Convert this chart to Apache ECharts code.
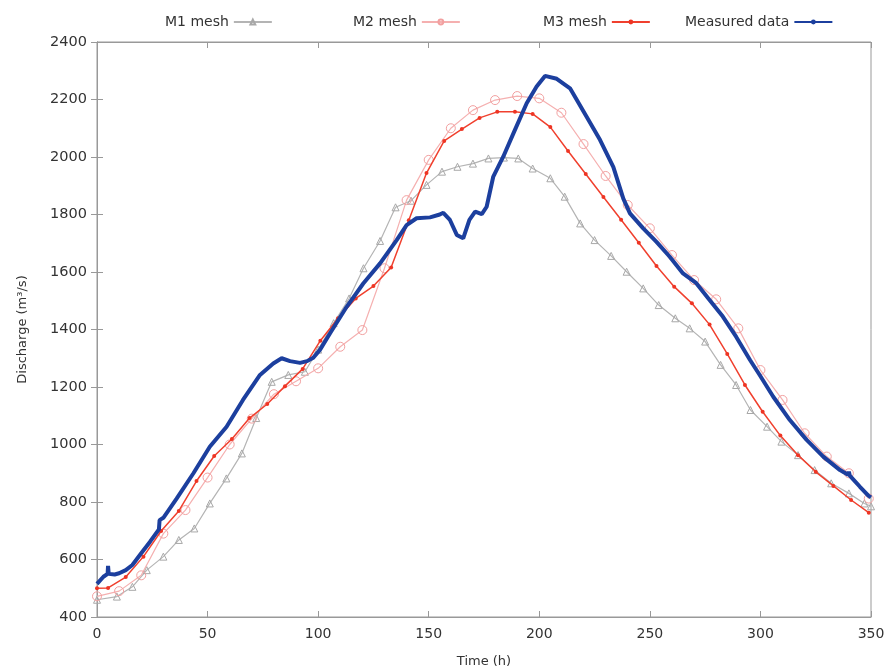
<!DOCTYPE html>
<html>
<head>
<meta charset="utf-8">
<script src="https://cdn.jsdelivr.net/npm/echarts@6/dist/echarts.min.js"></script>
<style>
    html, body { margin: 0; padding: 0; background: #fff; }
    #chart { width: 886px; height: 670px; }
</style>
</head>
<body>
<div id="chart"></div>
<script>
// simulated hydrographs (time in h, discharge in m3/s)
var m1Time = [0, 9, 16, 22.5, 30, 37, 44, 51, 58.5, 65.5, 72, 79, 86.5, 94, 100, 107, 114, 120.5, 128, 135, 142, 149, 156, 163, 170, 177, 184, 190.5, 197, 205, 211.5, 218.5, 225, 232.5, 239.5, 247, 254, 261.5, 268, 275, 282, 289, 295.5, 303, 309.5, 317, 324.5, 332, 340, 347, 350];
var m1Flow = [460, 471, 505, 563, 610, 668, 708, 795, 882, 969, 1092, 1218, 1242, 1253, 1330, 1422, 1508, 1613, 1708, 1825, 1848, 1903, 1949, 1966, 1977, 1995, 1998, 1995, 1960, 1926, 1862, 1769, 1711, 1656, 1601, 1543, 1485, 1439, 1404, 1358, 1277, 1207, 1120, 1062, 1010, 963, 911, 865, 830, 795, 785];

var m2Time = [0, 10, 20, 30, 40, 50, 60, 70, 80, 90, 100, 110, 120, 130, 140, 150, 160, 170, 180, 190, 200, 210, 220, 230, 240, 250, 260, 270, 280, 290, 300, 310, 320, 330, 340, 349];
var m2Flow = [472, 490, 545, 690, 772, 885, 1000, 1090, 1175, 1220, 1265, 1340, 1398, 1613, 1850, 1990, 2100, 2163, 2198, 2212, 2204, 2154, 2045, 1934, 1833, 1752, 1659, 1572, 1505, 1404, 1259, 1155, 1039, 958, 900, 812];

var m3Time = [0, 5, 13, 21, 29, 37, 45, 53, 61, 69, 77, 85, 93, 101, 109, 117, 125, 133, 141, 149, 157, 165, 173, 181, 189, 197, 205, 213, 221, 229, 237, 245, 253, 261, 269, 277, 285, 293, 301, 309, 317, 325, 333, 341, 349];
var m3Flow = [500, 501, 539, 610, 699, 769, 873, 960, 1019, 1092, 1141, 1203, 1263, 1361, 1439, 1508, 1551, 1616, 1780, 1944, 2056, 2097, 2136, 2157, 2157, 2150, 2104, 2021, 1941, 1861, 1782, 1702, 1621, 1549, 1491, 1417, 1315, 1207, 1114, 1031, 963, 905, 856, 807, 763];

// measured hydrograph
var measTime = [0, 2.9, 4.8, 5, 5.3, 8, 10, 13, 16, 20, 24, 28, 28.3, 30, 36, 43.6, 51, 58.6, 66, 73.7, 79.7, 83.5, 87.3, 91.8, 95, 97.8, 100.8, 105.4, 112.9, 120.4, 128, 135.5, 140, 144.5, 150.6, 155, 156.6, 159.6, 162.7, 165.6, 168.4, 171, 174, 176.2, 179.2, 183.7, 188.3, 194.3, 198.8, 202.6, 207.9, 213.9, 221.4, 227.5, 233.5, 238, 241, 247, 253, 259, 265, 271, 277, 283, 289, 295.3, 299.8, 305.8, 313.3, 320.9, 328.4, 336, 339.6, 340, 340.4, 345, 348.8, 350];
var measFlow = [515, 540, 550, 578, 550, 548, 552, 563, 581, 622, 662, 705, 737, 745, 812, 900, 992, 1062, 1155, 1242, 1282, 1300, 1290, 1284, 1290, 1302, 1329, 1387, 1479, 1560, 1630, 1711, 1763, 1787, 1790, 1800, 1806, 1781, 1729, 1717, 1781, 1810, 1801, 1827, 1932, 2001, 2082, 2187, 2245, 2282, 2272, 2239, 2140, 2059, 1965, 1855, 1804, 1752, 1705, 1653, 1595, 1561, 1503, 1445, 1375, 1294, 1240, 1166, 1085, 1016, 958, 911, 895, 905, 892, 853, 822, 816];

var xTicks = [0, 50, 100, 150, 200, 250, 300, 350];
var yTicks = [400, 600, 800, 1000, 1200, 1400, 1600, 1800, 2000, 2200, 2400];

function pairs(t, v) {
    var out = [];
    for (var i = 0; i < t.length; i++) {
        out.push([t[i], v[i]]);
    }
    return out;
}

var myChart = echarts.init(document.getElementById('chart'));

window.onresize = function () {
    myChart.resize();
};

var font = 'DejaVu Sans';
var txt = '#333';

function legendAt(name, left) {
    return {
        data: [name],
        left: left,
        top: 10,
        align: 'right',
        itemWidth: 38,
        itemHeight: 6,
        textStyle: { fontFamily: font, fontSize: 14, color: txt }
    };
}

var option = {
    backgroundColor: '#fff',
    animation: false,
    legend: [
        legendAt('M1 mesh', 160),
        legendAt('M2 mesh', 348),
        legendAt('M3 mesh', 538),
        legendAt('Measured data', 680)
    ],
    grid: {
        left: 97,
        right: 15,
        top: 42,
        bottom: 53,
        outerBoundsMode: 'none',
        show: true,
        borderColor: '#999',
        borderWidth: 1
    },
    xAxis: [
        {
            type: 'value',
            min: xTicks[0],
            max: xTicks[xTicks.length - 1],
            interval: 50,
            name: 'Time (h)',
            nameLocation: 'middle',
            nameGap: 38,
            nameTextStyle: { fontFamily: font, fontSize: 13, color: txt },
            axisLine: { show: true, lineStyle: { color: '#999' } },
            axisTick: { show: true, inside: true, length: 6, lineStyle: { color: '#999' } },
            axisLabel: { fontFamily: font, fontSize: 14, color: txt, margin: 10 },
            splitLine: { show: false }
        },
        {
            type: 'value',
            position: 'top',
            min: xTicks[0],
            max: xTicks[xTicks.length - 1],
            interval: 50,
            axisLine: { show: true, lineStyle: { color: '#999' } },
            axisTick: { show: true, inside: true, length: 6, lineStyle: { color: '#999' } },
            axisLabel: { show: false },
            splitLine: { show: false }
        }
    ],
    yAxis: [
        {
            type: 'value',
            min: yTicks[0],
            max: yTicks[yTicks.length - 1],
            interval: 200,
            name: 'Discharge (m³/s)',
            nameLocation: 'middle',
            nameGap: 68,
            nameTextStyle: { fontFamily: font, fontSize: 13, color: txt },
            axisLine: { show: true, lineStyle: { color: '#999' } },
            axisTick: { show: true, inside: true, length: 6, lineStyle: { color: '#999' } },
            axisLabel: {
                fontFamily: font, fontSize: 14.5, color: txt, margin: 10,
                formatter: function (v) { return String(v); }
            },
            splitLine: { show: false }
        },
        {
            type: 'value',
            position: 'right',
            min: yTicks[0],
            max: yTicks[yTicks.length - 1],
            interval: 200,
            axisLine: { show: true, lineStyle: { color: '#999' } },
            axisTick: { show: true, inside: true, length: 6, lineStyle: { color: '#999' } },
            axisLabel: { show: false },
            splitLine: { show: false }
        }
    ],
    series: [
        {
            name: 'M1 mesh',
            type: 'line',
            data: pairs(m1Time, m1Flow),
            symbol: 'triangle',
            symbolSize: 7,
            lineStyle: { color: '#b4b4b4', width: 1.2 },
            itemStyle: { color: 'rgba(255,255,255,0)', borderColor: '#a8a8a8', borderWidth: 1 },
            z: 2
        },
        {
            name: 'M2 mesh',
            type: 'line',
            data: pairs(m2Time, m2Flow),
            symbol: 'circle',
            symbolSize: 9,
            lineStyle: { color: '#f5b0b0', width: 1.2 },
            itemStyle: { color: 'rgba(255,255,255,0)', borderColor: '#f2a0a0', borderWidth: 1 },
            z: 3
        },
        {
            name: 'M3 mesh',
            type: 'line',
            data: pairs(m3Time, m3Flow),
            symbol: 'circle',
            symbolSize: 4,
            lineStyle: { color: '#f0402e', width: 1.5 },
            itemStyle: { color: '#ee3524', borderWidth: 0 },
            z: 4
        },
        {
            name: 'Measured data',
            type: 'line',
            data: pairs(measTime, measFlow),
            showSymbol: false,
            symbol: 'circle',
            symbolSize: 4,
            lineStyle: { color: '#1c3f9e', width: 4 },
            itemStyle: { color: '#1c3f9e' },
            z: 5
        }
    ]
};
myChart.setOption(option);
</script>
</body>
</html>
